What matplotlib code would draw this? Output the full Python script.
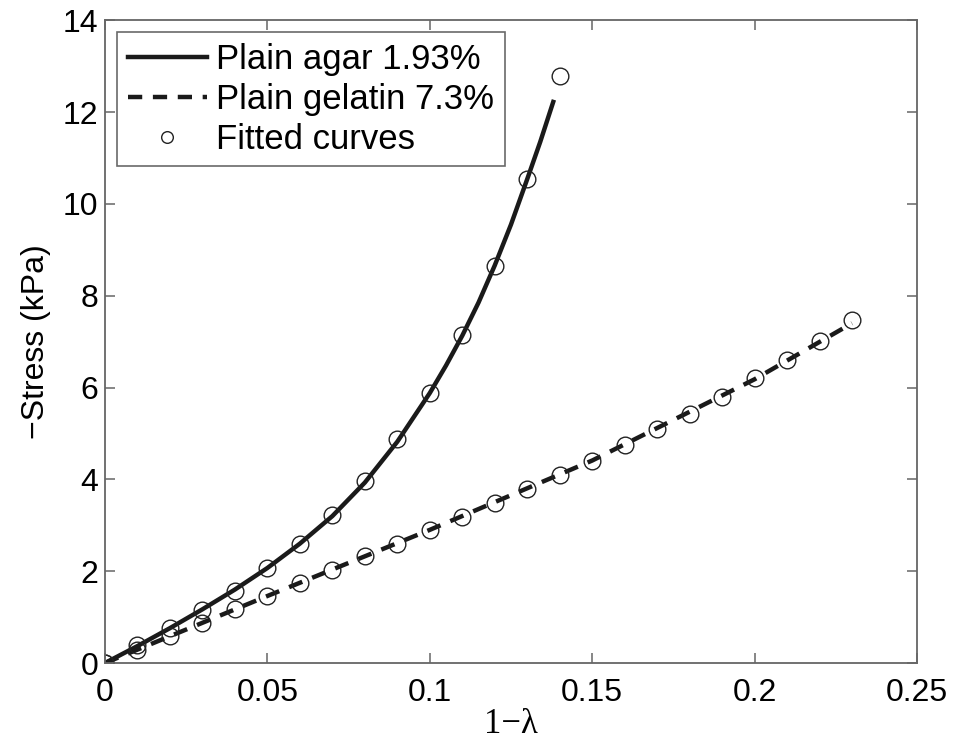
import numpy as np
import matplotlib
matplotlib.use("Agg")
import matplotlib.pyplot as plt

# valores
x_pts = [0, 0.01, 0.02, 0.03, 0.04, 0.05, 0.06, 0.07, 0.08, 0.09, 0.10, 0.11, 0.12, 0.13, 0.14]
agar_pts = [0, 0.39, 0.76, 1.15, 1.57, 2.06, 2.60, 3.22, 3.96, 4.87, 5.89, 7.15, 8.65, 10.54, 12.78]

x_gel = [0, 0.01, 0.02, 0.03, 0.04, 0.05, 0.06, 0.07, 0.08, 0.09, 0.10, 0.11, 0.12,
         0.13, 0.14, 0.15, 0.16, 0.17, 0.18, 0.19, 0.20, 0.21, 0.22, 0.23]
gel_pts = [0, 0.28, 0.59, 0.88, 1.17, 1.46, 1.75, 2.03, 2.33, 2.60, 2.89, 3.17, 3.48,
           3.78, 4.09, 4.41, 4.74, 5.09, 5.43, 5.80, 6.20, 6.61, 7.02, 7.48]

# curvas medidas
x_agar_line = [0, 0.01, 0.02, 0.03, 0.04, 0.05, 0.06, 0.07, 0.08, 0.09, 0.10, 0.105,
               0.11, 0.115, 0.12, 0.125, 0.13, 0.134, 0.138]
agar_line = [0, 0.37, 0.76, 1.17, 1.60, 2.07, 2.60, 3.20, 3.93, 4.82, 5.88, 6.48,
             7.13, 7.85, 8.66, 9.55, 10.54, 11.35, 12.22]
x_gel_line = [0, 0.05, 0.10, 0.15, 0.20, 0.23]
gel_line = [0, 1.46, 2.90, 4.41, 6.18, 7.40]

plt.rcParams['font.family'] = ['Liberation Sans', 'DejaVu Sans']

fig = plt.figure(figsize=(9.58, 7.48), dpi=100)
ax = fig.add_axes([0.1096, 0.1136, 0.8476, 0.8594])

ax.plot(x_agar_line, agar_line, color='#1a1a1a', lw=3.2, label='Plain agar 1.93%')
ax.plot(x_gel_line, gel_line, color='#1a1a1a', lw=3.2, ls=(0, (3.2, 2.4)),
        label='Plain gelatin 7.3%')
ax.plot(x_pts, agar_pts, 'o', mfc='none', mec='#222222', ms=12, mew=1.0,
        label='Fitted curves')
ax.plot(x_gel, gel_pts, 'o', mfc='none', mec='#222222', ms=12, mew=1.0)

ax.set_xlim(0, 0.25)
ax.set_ylim(0, 14)
ax.set_xticks([0, 0.05, 0.1, 0.15, 0.2, 0.25])
ax.set_xticklabels(['0', '0.05', '0.1', '0.15', '0.2', '0.25'])
ax.set_yticks(np.arange(0, 15, 2))

for s in ax.spines.values():
    s.set_color('#666666')
    s.set_linewidth(1.3)
ax.tick_params(direction='in', length=7, width=1.1, color='#666666',
               labelsize=23, top=True, right=True)
ax.tick_params(axis='x', pad=11)
ax.tick_params(axis='y', pad=5)

ax.set_xlabel('1\u2212\u03bb', fontsize=25, family='Liberation Serif', labelpad=0)
ax.set_ylabel('\u2212Stress (kPa)', fontsize=23, labelpad=8)

leg = ax.legend(loc='upper left', fontsize=25, frameon=True, fancybox=False,
                borderaxespad=0.35, handlelength=2.3, handletextpad=0.25,
                labelspacing=0.2, borderpad=0.3, markerscale=0.7)
leg.get_frame().set_edgecolor('#444444')
leg.get_frame().set_linewidth(1.2)

fig.savefig('out.png', dpi=100)
